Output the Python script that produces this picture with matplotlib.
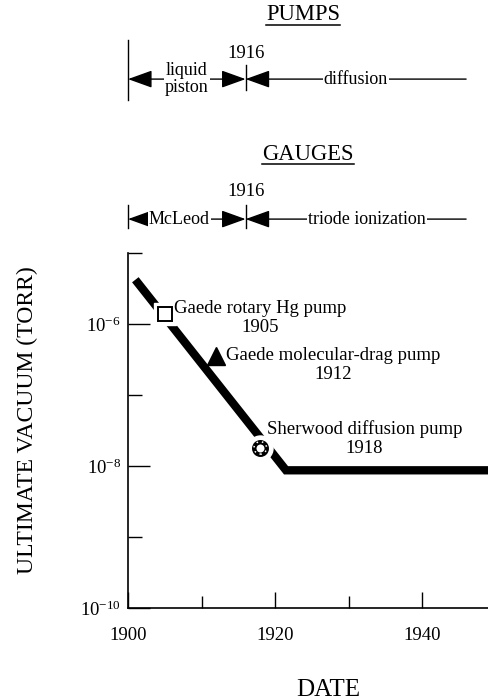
import matplotlib
matplotlib.use("Agg")
import matplotlib.pyplot as plt
from matplotlib import transforms

plt.rcParams['font.family'] = ['Liberation Serif', 'DejaVu Serif']
plt.rcParams['mathtext.fontset'] = 'custom'
plt.rcParams['mathtext.rm'] = 'Liberation Serif'
plt.rcParams['mathtext.it'] = 'Liberation Serif:italic'

# trend of best vacuum reached
trend_years = [1901, 1921.5, 1950]
trend_torr = [4.2e-6, 8.7e-9, 8.7e-9]

# milestone pumps
pump_names = ["Gaede rotary Hg pump", "Gaede molecular-drag pump", "Sherwood diffusion pump"]
pump_years = [1905, 1912, 1918]
pump_torr = [1.4e-6, 3.5e-7, 1.8e-8]

# eras shown above the plot
era_edges = [1900, 1916, 1946]
pump_eras = ["liquid\npiston", "diffusion"]
pump_era_x = [1908, 1931]
gauge_eras = ["McLeod", "triode ionization"]
gauge_era_x = [1907, 1932.5]

y_ticks = [1e-10, 1e-8, 1e-6]
y_tick_labels = ["$10^{-10}$", "$10^{-8}$", "$10^{-6}$"]
y_minor = [1e-9, 1e-7, 1e-5]
x_ticks = [1900, 1920, 1940]
x_minor = [1910, 1930, 1950]

fig = plt.figure(figsize=(4.89, 7.0), dpi=100)
ax = fig.add_axes([128 / 489, 92 / 700, (495.5 - 128) / 489, 355 / 700])

ax.plot(trend_years, trend_torr, color='black', lw=6, solid_capstyle='butt',
        solid_joinstyle='miter', zorder=2)

# markers, each with a white halo that cuts the thick line
sq, tri, circ = 0, 1, 2
ax.plot(pump_years[sq], pump_torr[sq], marker='s', ms=16, color='white', zorder=3)
ax.plot(pump_years[sq], pump_torr[sq], marker='s', ms=10, mfc='white', mec='black', mew=1.4, zorder=4)
ax.plot(pump_years[tri], pump_torr[tri], marker='^', ms=13, color='black', zorder=4)
ax.plot(pump_years[circ], pump_torr[circ], marker='o', ms=18, color='white', zorder=3)
ax.plot(pump_years[circ], pump_torr[circ], marker='o', ms=9, mfc='white', mec='black', mew=3.2, zorder=4)
ax.scatter([pump_years[circ]], [pump_torr[circ]], s=81, facecolor='none', edgecolor='white',
           linewidths=1.1, linestyle=(0, (1, 2.6)), zorder=5)

label_offsets = [(6.5, 10), (7, 6.5), (4.5, 20)]
for name, yr, t, off in zip(pump_names, pump_years, pump_torr, label_offsets):
    ax.annotate(f"{name}\n{yr}", xy=(yr, t), xytext=off, textcoords='offset points',
                ha='left', va='top', multialignment='center', fontsize=13.5,
                linespacing=1.15, zorder=5)

ax.set_yscale('log')
ax.set_ylim(1e-10, 1e-5)
ax.set_xlim(1900, 1950)
ax.set_yticks(y_ticks)
ax.set_yticklabels(y_tick_labels)
ax.set_yticks(y_minor, minor=True)
ax.yaxis.set_minor_formatter(plt.NullFormatter())
ax.set_xticks(x_ticks)
ax.set_xticks(x_minor, minor=True)
ax.tick_params(which='both', direction='in', width=1.0)
ax.tick_params(axis='y', which='major', length=16, pad=5, labelsize=13.5)
ax.tick_params(axis='y', which='minor', length=10)
ax.tick_params(axis='x', which='major', length=11.5, pad=14, labelsize=13.5)
ax.tick_params(axis='x', which='minor', length=8.5)
for s in ['top', 'right']:
    ax.spines[s].set_visible(False)
for s in ['left', 'bottom']:
    ax.spines[s].set_linewidth(1.2)

ax.set_xlabel("DATE", fontsize=18, labelpad=22)
ax.xaxis.set_label_coords(0.545, -0.2)
ax.set_ylabel("ULTIMATE VACUUM (TORR)", fontsize=17)
ax.yaxis.set_label_coords(-0.244, 0.53)

# era timelines above the plot: x in years, y in figure fraction
trans = transforms.blended_transform_factory(ax.transData, fig.transFigure)


def draw_timeline(labels, label_x, y, year_y, left_bar, mid_bar):
    for i, lab in enumerate(labels):
        x0, x1 = era_edges[i], era_edges[i + 1]
        style = '<|-|>' if i == 0 else '-|>'
        ax.annotate('', xy=(x0, y), xytext=(x1, y), xycoords=trans, textcoords=trans,
                    arrowprops=dict(arrowstyle=style + ',head_length=0.75,head_width=0.27',
                                    color='black', lw=1, shrinkA=0, shrinkB=0,
                                    mutation_scale=20),
                    annotation_clip=False)
        ax.text(label_x[i], y, lab, transform=trans, ha='center', va='center',
                fontsize=13, linespacing=0.95,
                bbox=dict(boxstyle='square,pad=0.05', fc='white', ec='none'))
    ax.plot([era_edges[0]] * 2, left_bar, transform=trans, color='black', lw=1, clip_on=False)
    ax.plot([era_edges[1]] * 2, mid_bar, transform=trans, color='black', lw=1, clip_on=False)
    ax.text(era_edges[1], year_y, str(era_edges[1]), transform=trans, ha='center',
            va='center', fontsize=13.5)


draw_timeline(pump_eras, pump_era_x, 0.887, 0.924, [0.943, 0.857], [0.907, 0.871])
draw_timeline(gauge_eras, gauge_era_x, 0.687, 0.727, [0.707, 0.674], [0.707, 0.674])

titles = []
titles.append(ax.text(1923.8, 0.979, "PUMPS", transform=trans, ha='center', va='center', fontsize=16.3))
titles.append(ax.text(1924.5, 0.779, "GAUGES", transform=trans, ha='center', va='center', fontsize=16.3))

# underline the headings
fig.canvas.draw()
r = fig.canvas.get_renderer()
for t in titles:
    bb = t.get_window_extent(r).transformed(fig.transFigure.inverted())
    fig.add_artist(plt.Line2D([bb.x0, bb.x1], [bb.y0 + 0.001, bb.y0 + 0.001],
                              color='black', lw=1.1, transform=fig.transFigure))

fig.savefig("out.png", dpi=100)
